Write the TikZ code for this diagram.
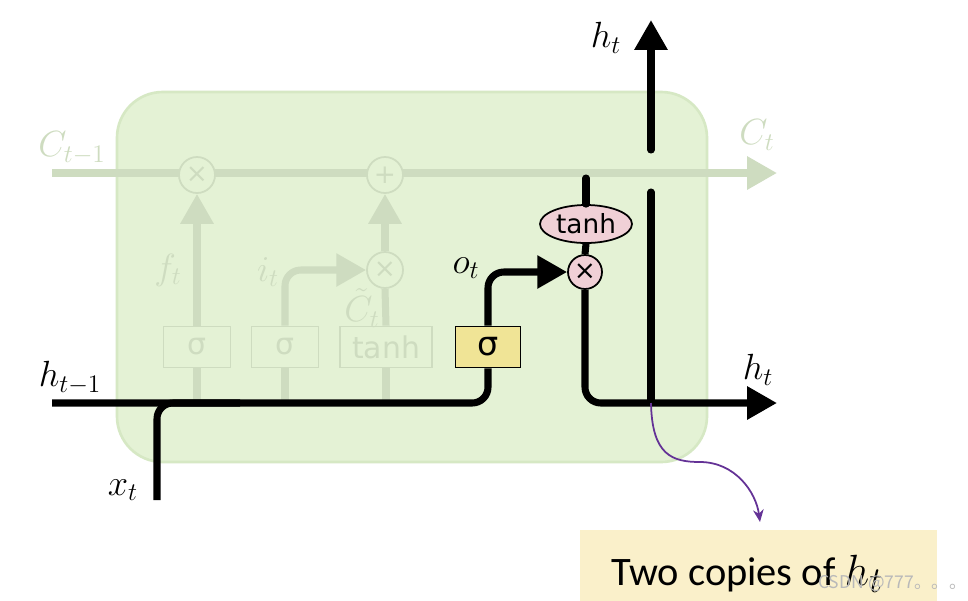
\documentclass[tikz,border=0pt]{standalone}
\usepackage{amsmath}
\usepackage{fontspec}
\usetikzlibrary{shapes.geometric,arrows.meta,positioning,calc}
\newfontfamily\gatefont{DejaVu Sans}
\newfontfamily\notefont{Carlito}
\newfontfamily\cjk{Noto Sans CJK SC}
\definecolor{cellbg}{RGB}{228,242,213}
\definecolor{cellrim}{RGB}{214,232,196}
\definecolor{fadegray}{RGB}{206,220,192}
\definecolor{gatepink}{RGB}{240,208,214}
\definecolor{gateyellow}{RGB}{240,228,150}
\definecolor{notebg}{RGB}{250,240,202}
\definecolor{copypurple}{RGB}{100,50,150}
\tikzset{
  fadeline/.style={line width=4pt, fadegray},
  mainline/.style={line width=4pt, black},
  bigtip/.style={-{Triangle[length=17pt,width=18pt]}},
  fadebox/.style={draw=fadegray, line width=1pt, fill=cellbg, text=fadegray,
    minimum width=1.34cm, minimum height=0.82cm, font=\gatefont\fontsize{17}{20}\selectfont},
  fadeop/.style={circle, draw=fadegray, line width=1pt, fill=cellbg, text=fadegray,
    minimum size=0.72cm, inner sep=0pt, font=\gatefont\fontsize{15}{16}\selectfont},
  fadelabel/.style={text=fadegray, font=\fontsize{21}{24}\selectfont},
  mathlabel/.style={font=\fontsize{21}{24}\selectfont}
}
\begin{document}
\begin{tikzpicture}[x=0.02cm, y=-0.02cm]
    \useasboundingbox (0,0) rectangle (968,600);
    % --- cell background ---
    \fill[white] (0,0) rectangle (968,600);
    \draw[cellrim, fill=cellbg, line width=1.5pt, rounded corners=26pt] (117,92) rectangle (707,462);

    % --- faded part: cell state, forget and input gates ---
    \coordinate (cin) at (52,173);
    \coordinate (cout) at (777,173);
    \draw[fadeline, bigtip] (cin) -- (cout);
    \node[fadelabel] (clabin) at (72,148) {$C_{t-1}$};
    \node[fadelabel] (clabout) at (757,135) {$C_t$};

    \node[fadeop] (fmul) at (197,175) {×};
    \node[fadeop] (cadd) at (385,175) {+};
    \node[fadeop] (imul) at (385,270) {×};

    \node[fadebox] (fbox) at (197,347) {σ};
    \node[fadebox] (ibox) at (285,347) {σ};
    \node[fadebox, minimum width=1.84cm] (tbox) at (386,347) {tanh};

    \coordinate (hin) at (52,403);
    \foreach \gate in {fbox,ibox,tbox} {
        \draw[fadeline] (\gate.south) -- (\gate.south |- hin);
    }
    \draw[fadeline, bigtip] (fbox.north) -- (fmul.south);
    \draw[fadeline, bigtip, rounded corners=9pt] (ibox.north) |- (imul.west);
    \draw[fadeline] (tbox.north) -- (imul.south);
    \draw[fadeline, bigtip] (imul.north) -- (cadd.south);
    \node[fadelabel] (flab) at (168,270) {$f_t$};
    \node[fadelabel] (ilab) at (268,272) {$i_t$};
    \node[fadelabel] (clab) at (362,308) {$\tilde{C}_t$};

    % --- output gate ---
    \node[draw, line width=1pt, fill=gateyellow, minimum width=1.3cm, minimum height=0.82cm,
          font=\gatefont\fontsize{19}{20}\selectfont] (obox) at (488,347) {σ};
    \node[circle, draw, line width=1pt, fill=gatepink, minimum size=0.68cm, inner sep=0pt,
          font=\gatefont\fontsize{15}{16}\selectfont] (omul) at (585,272) {×};
    \node[ellipse, draw, line width=1pt, fill=gatepink, minimum width=1.84cm, minimum height=0.76cm,
          inner sep=0pt, font=\gatefont\fontsize{15}{16}\selectfont] (otanh) at (586,224) {tanh};

    \coordinate (xin) at (157,500);
    \coordinate (xjoin) at (240,403);
    \draw[mainline, rounded corners=9pt] (hin) -| (obox.south);
    \draw[mainline, rounded corners=9pt] (xin) |- (xjoin);
    \draw[mainline, bigtip, rounded corners=9pt] (obox.north) |- (omul.west);
    \node[mathlabel] (olab) at (466,268) {$o_t$};
    \node[mathlabel] (hlabin) at (70,378) {$h_{t-1}$};
    \node[mathlabel] (xlab) at (123,490) {$x_t$};

    % --- hidden state out, two copies ---
    \coordinate (ctap) at (586,178);
    \coordinate (hout) at (777,403);
    \coordinate (hsplit) at (651,403);
    \coordinate (hgaplo) at (651,192);
    \coordinate (hgaphi) at (651,150);
    \coordinate (hup) at (651,20);
    \draw[mainline, line cap=round] (ctap) -- (otanh.north);
    \draw[mainline] (otanh.south) -- (omul.north);
    \draw[mainline, bigtip, rounded corners=9pt] (omul.south) |- (hout);
    \draw[mainline, line cap=round] (hsplit) -- (hgaplo);
    \draw[mainline, line cap=round, bigtip] (hgaphi) -- (hup);
    \node[mathlabel] (hlabup) at (606,38) {$h_t$};
    \node[mathlabel] (hlabout) at (758,370) {$h_t$};

    % --- note ---
    \node[fill=notebg, minimum width=7.14cm, minimum height=1.7cm, anchor=north west] (note) at (580,530) {};
    \node[anchor=base west, inner sep=0pt, font=\notefont\fontsize{23}{26}\selectfont] (notetext) at (611,585)
          {Two copies of \fontsize{32}{34}\selectfont$h_t$};
    \coordinate (notetip) at (760,522);
    \draw[copypurple, line width=1pt, -{Stealth[length=7pt,width=6pt]}]
        (hsplit) .. controls (652,455) and (672,462) .. (700,462)
        .. controls (735,462) and (756,492) .. (notetip);
    \node[text=gray!55, font=\cjk\fontsize{10}{12}\selectfont, anchor=west] (mark) at (812,583) {CSDN @777。。。};
\end{tikzpicture}
\end{document}
